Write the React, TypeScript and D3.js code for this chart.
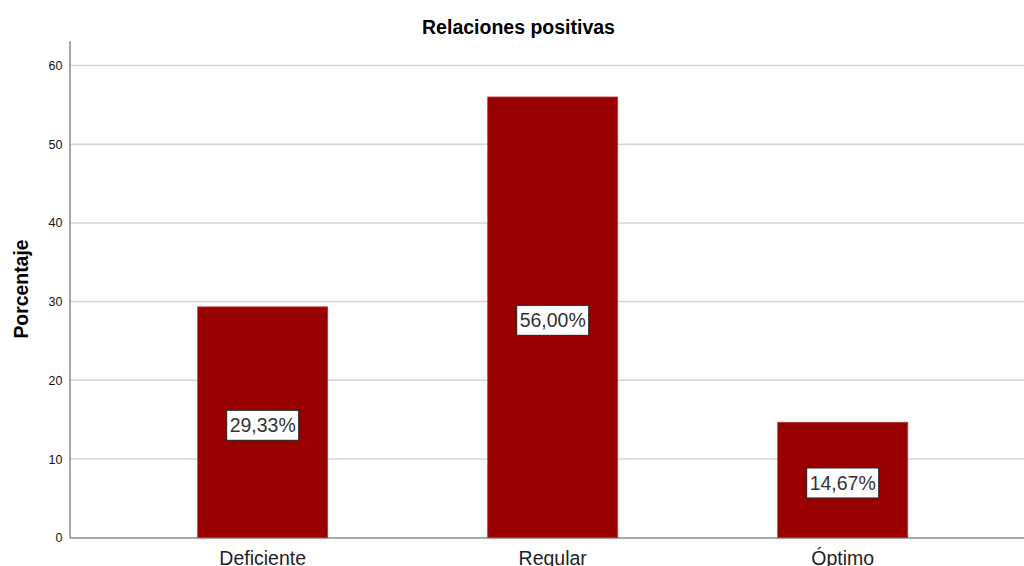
import React from "react";
import * as d3 from "d3";

const categories = ["Deficiente", "Regular", "Óptimo"];
const values = [29.33, 56.0, 14.67];
const valueLabels = ["29,33%", "56,00%", "14,67%"];
const yTicks = [0, 10, 20, 30, 40, 50, 60];
const title = "Relaciones positivas";
const yTitle = "Porcentaje";

const W = 1024;
const H = 566;
const FONT = "'Liberation Sans', Arial, sans-serif";

export default function App() {
  const y = d3.scaleLinear().domain([0, 60]).range([537.7, 65.5]);
  const p = 160 / 290;
  const x = d3
    .scaleBand<string>()
    .domain(categories)
    .range([117.7, 987.7])
    .paddingInner(p)
    .paddingOuter(p / 2);
  const bw = x.bandwidth();

  return (
    <svg
      width={W}
      height={H}
      style={{ position: "absolute", left: 0, top: 0, background: "#fff" }}
      fontFamily={FONT}
    >
      <text x={518.5} y={34} textAnchor="middle" fontSize={19.5} fontWeight="bold" fill="#000">
        {title}
      </text>
      <text
        transform={`translate(28,289) rotate(-90)`}
        textAnchor="middle"
        fontSize={19.4}
        fontWeight="bold"
        fill="#000"
      >
        {yTitle}
      </text>
      {yTicks.map((t) => (
        <g key={t}>
          {t > 0 && (
            <line x1={70} x2={W} y1={y(t)} y2={y(t)} stroke="#d4d4d4" strokeWidth={1.5} />
          )}
          <text x={62.5} y={y(t) + 4.5} textAnchor="end" fontSize={12.5} fill="#111">
            {t}
          </text>
        </g>
      ))}
      {categories.map((c, i) => {
        const x0 = x(c)!;
        const yt = y(values[i]);
        const cx = x0 + bw / 2;
        const cy = (yt + y(0)) / 2 + 3;
        return (
          <g key={c}>
            <rect
              x={x0}
              y={yt}
              width={bw}
              height={y(0) - yt}
              fill="#990000"
              stroke="#b33a3a"
              strokeWidth={0.8}
            />
            <rect
              x={cx - 36}
              y={cy - 15}
              width={72}
              height={30}
              fill="#fff"
              stroke="#222"
              strokeWidth={1}
            />
            <text x={cx} y={cy + 7} textAnchor="middle" fontSize={19.5} fill="#333">
              {valueLabels[i]}
            </text>
            <text x={cx} y={565} textAnchor="middle" fontSize={19.5} fill="#222">
              {c}
            </text>
          </g>
        );
      })}
      <line x1={70} x2={70} y1={41} y2={538} stroke="#8a8a8a" strokeWidth={1.5} />
      <line x1={70} x2={W} y1={538} y2={538} stroke="#555" strokeWidth={1.2} />
    </svg>
  );
}
